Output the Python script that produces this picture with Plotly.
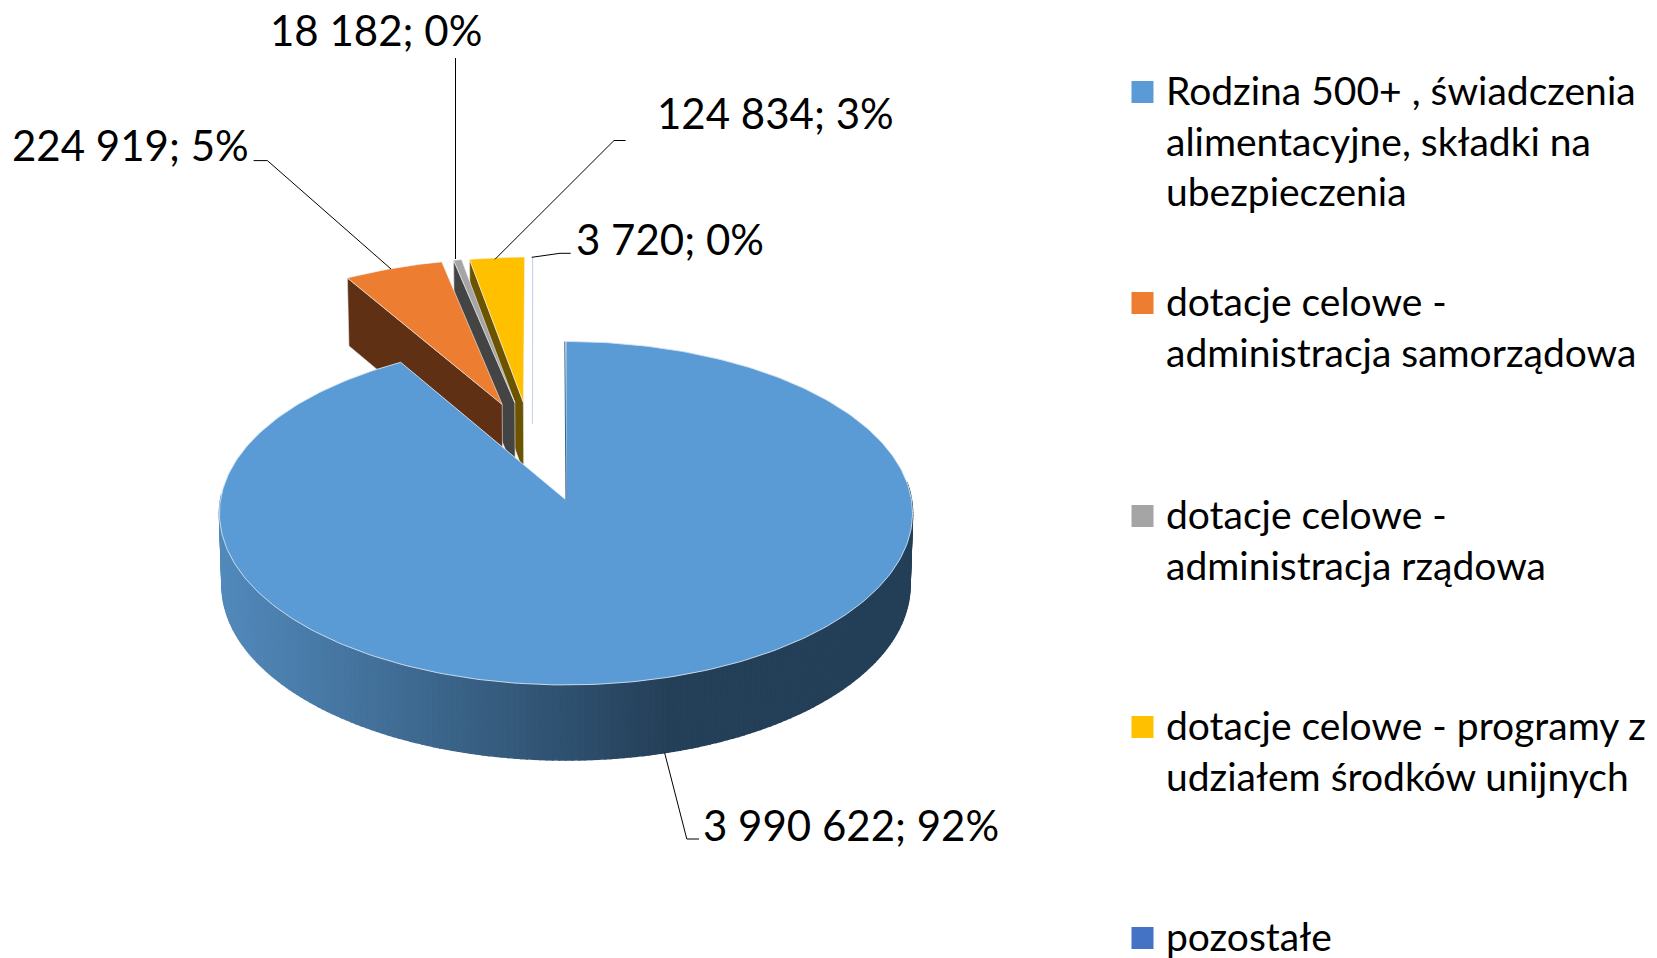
import math
import plotly.graph_objects as go

# ---- data ----
categories = [
    "Rodzina 500+ , świadczenia<br>alimentacyjne, składki na<br>ubezpieczenia",
    "dotacje celowe -<br>administracja samorządowa",
    "dotacje celowe -<br>administracja rządowa",
    "dotacje celowe - programy z<br>udziałem środków unijnych",
    "pozostałe",
]
values = [3990622, 224919, 18182, 124834, 3720]
percents = [92, 5, 0, 3, 0]
colors = ["#5B9BD5", "#ED7D31", "#A5A5A5", "#FFC000", "#4472C4"]
wall_colors = [None, "#5F3013", "#444444", "#6B5300", "#DDE5F4"]

# ---- 3D projection (pixel space, axes below) ----
CX, CY_TOP, A_TOP, B_TOP = 566.0, 500.0, 345.5, 170.7
CY_BOT, A_BOT, B_BOT = 571.8, 343.0, 173.7
K = 0.077
explode = [(0, 0), (-0.193, 0.585), (-0.155, 0.597), (-0.129, 0.598), (-0.103, 0.60)]
FONT = "Lato"
LABEL_SIZE = 42
LEG_SIZE = 39


def top(X, Y):
    w = 1 + K * Y
    return CX + A_TOP * X / w, CY_TOP - B_TOP * Y / w


def bot(X, Y):
    w = 1 + K * Y
    return CX + A_BOT * X / w, CY_BOT - B_BOT * Y / w


def rim(phi, ex=0, ey=0):
    r = math.radians(phi)
    return ex + math.sin(r), ey + math.cos(r)


total = sum(values)
starts = []
acc = 0
for v in values:
    starts.append((acc / total * 360, (acc + v) / total * 360))
    acc += v

fig = go.Figure()


def poly(pts, fill, line=None, lw=0.0):
    fig.add_trace(go.Scatter(
        x=[p[0] for p in pts] + [pts[0][0]], y=[p[1] for p in pts] + [pts[0][1]],
        mode="lines", fill="toself", fillcolor=fill,
        line=dict(color=line or fill, width=lw), hoverinfo="skip", showlegend=False))


def wedge(i):
    p0, p1 = starts[i]
    ex, ey = explode[i]
    n = max(2, int((p1 - p0) / 1.0))
    pts = [top(ex, ey)]
    for j in range(n + 1):
        pts.append(top(*rim(p0 + (p1 - p0) * j / n, ex, ey)))
    return pts


# small exploded slices, back to front
for i in [4, 3, 2, 1]:
    p0 = starts[i][0]
    ex, ey = explode[i]
    X, Y = rim(p0, ex, ey)
    if i == 4:
        a = top(ex, ey)
        fig.add_trace(go.Scatter(x=[top(X, Y)[0], a[0], a[0] + 0.5], y=[top(X, Y)[1], a[1], a[1] + 22],
                                 mode="lines", line=dict(color="#C9D6EE", width=1.2),
                                 hoverinfo="skip", showlegend=False))
        continue
    poly([top(ex, ey), top(X, Y), bot(X, Y), bot(ex, ey)], wall_colors[i], "#E8E8E8", 0.6)
    poly(wedge(i), colors[i], "#F4F4F4", 0.6)


# main slice wall with horizontal gradient
def grad(x):
    c0, c1 = (0x52, 0x8A, 0xBC), (0x24, 0x3F, 0x58)
    t = min(1, max(0, (x - 219) / (672 - 219)))
    return "rgb(%d,%d,%d)" % tuple(round(a + (b - a) * t) for a, b in zip(c0, c1))


phi = 272.0
while phi > 84:
    nxt = phi - 1
    X0, Y0 = rim(phi)
    X1, Y1 = rim(nxt)
    xm = top((X0 + X1) / 2, (Y0 + Y1) / 2)[0]
    c = grad(xm)
    poly([top(X0, Y0), top(X1, Y1), bot(X1, Y1), bot(X0, Y0)], c, c, 1.5)
    phi = nxt

# main slice top
poly(wedge(0), colors[0], "#D5E3F1", 0.9)

# thin visible cut face at 12 o'clock
a0 = top(0, 0)
r0 = top(*rim(0))
fig.add_trace(go.Scatter(x=[r0[0] - 1.2, a0[0]], y=[r0[1], a0[1]], mode="lines",
                         line=dict(color="#3C5F82", width=1), hoverinfo="skip", showlegend=False))

# leader lines (label placement)
leaders = [
    ([664.6, 686.8, 699], [752.7, 839, 839]),
    ([391, 267.4, 253.6], [269, 160.6, 160.6]),
    ([455.5, 455.5], [259, 58]),
    ([495, 614, 625.6], [259.3, 140.5, 140.5]),
    ([531.7, 560, 570.7], [257.3, 253.3, 253.3]),
]
for xs, ys in leaders:
    fig.add_trace(go.Scatter(x=xs, y=ys, mode="lines", line=dict(color="#000000", width=1),
                             hoverinfo="skip", showlegend=False))


def fmt(v, p):
    return f"{v:,}".replace(",", " ") + "; " + f"{p}%"


label_pos = [(702, 825), (10.7, 145), (268.6, 30), (656, 113), (574.5, 239)]
annotations = []
for v, p, (x, y) in zip(values, percents, label_pos):
    annotations.append(dict(x=x, y=y, xref="x", yref="y", text=fmt(v, p), showarrow=False,
                            xanchor="left", yanchor="middle", borderpad=0,
                            font=dict(family=FONT, size=LABEL_SIZE, color="#000000")))

# legend: swatches and text
leg_y = [92, 303, 516, 727, 938]
fig.add_trace(go.Scatter(x=[1142.5] * 5, y=leg_y, mode="markers",
                         marker=dict(symbol="square", size=22, color=colors, line=dict(width=0)),
                         hoverinfo="skip", showlegend=False))
for name, y in zip(categories, leg_y):
    annotations.append(dict(x=1165, y=y - 26, xref="x", yref="y", text=name, showarrow=False,
                            xanchor="left", yanchor="top", align="left", borderpad=0,
                            font=dict(family=FONT, size=LEG_SIZE, color="#000000")))

fig.update_layout(
    width=1657, height=958, margin=dict(l=0, r=0, t=0, b=0),
    paper_bgcolor="#FFFFFF", plot_bgcolor="#FFFFFF", showlegend=False,
    xaxis=dict(range=[0, 1657], visible=False, fixedrange=True),
    yaxis=dict(range=[958, 0], visible=False, fixedrange=True),
    annotations=annotations,
)
fig.write_html("out.html", config={"displayModeBar": False, "responsive": False},
               post_script="document.body.style.margin='0';document.body.style.overflow='hidden';")
